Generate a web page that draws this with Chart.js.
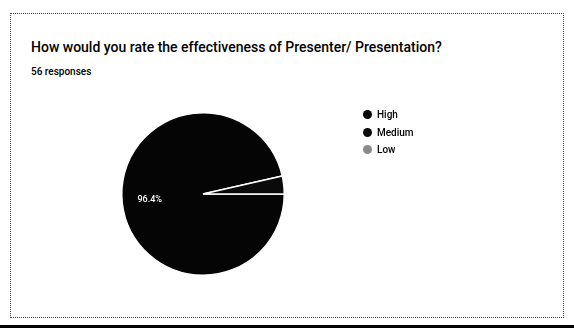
<!DOCTYPE html>
<html>
<head>
<meta charset="utf-8">
<script src="https://cdn.jsdelivr.net/npm/chart.js@4.4.1/dist/chart.umd.min.js"></script>
<style>
  html, body { margin: 0; padding: 0; background: #fff; }
  #wrap { position: relative; width: 574px; height: 332px; overflow: hidden; font-family: Roboto, Arial, sans-serif; color: #000; }
  #card { position: absolute; left: 10px; top: 13px; width: 552px; height: 303px; border: 1px dotted #444; }
  #bar { position: absolute; left: 0; top: 325px; width: 574px; height: 3px; background: #000; }
  #title { position: absolute; left: 31px; top: 39px; font-size: 14px; font-weight: 500; white-space: nowrap; }
  #sub { position: absolute; left: 31px; top: 66px; font-size: 10px; font-weight: 500; white-space: nowrap; }
  #legend { position: absolute; left: 363px; top: 108px; font-size: 10px; font-weight: 500; }
  #legend div { height: 17.5px; line-height: 14px; white-space: nowrap; }
  #legend span.dot { display: inline-block; width: 9px; height: 9px; border-radius: 50%; margin-right: 5px; vertical-align: -1px; }
  canvas { position: absolute; left: 0; top: 0; }
</style>
</head>
<body>
<div id="wrap">
  <div id="card"></div>
  <div id="bar"></div>
  <div id="title">How would you rate the effectiveness of Presenter/ Presentation?</div>
  <div id="sub">56 responses</div>
  <canvas id="myChart" width="574" height="332"></canvas>
  <div id="legend"></div>
</div>
<script>
// answers and counts
var labels = ['High', 'Medium', 'Low'];
var counts = [54, 2, 0];
var colors = ['#050505', '#0a0a0a', '#8a8a8a'];

var total = counts.reduce(function(a, b) { return a + b; }, 0);

// percent text inside each slice
var sliceLabels = {
    id: 'sliceLabels',
    afterDatasetsDraw: function(chart) {
        var ctx = chart.ctx;
        var meta = chart.getDatasetMeta(0);
        meta.data.forEach(function(arc, i) {
            var pct = counts[i] / total * 100;
            if (pct < 5) return;
            var p = arc.getProps(['x', 'y', 'startAngle', 'endAngle', 'outerRadius'], true);
            var mid = (p.startAngle + p.endAngle) / 2;
            var r = p.outerRadius * 0.66;
            ctx.save();
            ctx.fillStyle = '#fff';
            ctx.font = '500 9px Roboto, Arial, sans-serif';
            ctx.textAlign = 'center';
            ctx.textBaseline = 'middle';
            ctx.fillText(pct.toFixed(1) + '%', p.x + Math.cos(mid) * r, p.y + Math.sin(mid) * r);
            ctx.restore();
        });
    }
};

var ctx = document.getElementById('myChart');
var myPieChart = new Chart(ctx, {
    type: 'pie',
    data: {
        labels: labels,
        datasets: [{
            data: counts,
            backgroundColor: colors,
            borderColor: '#fff',
            borderWidth: 1.5
        }]
    },
    options: {
        responsive: false,
        animation: false,
        rotation: 90,
        layout: { padding: { left: 121, right: 289, top: 112, bottom: 56 } },
        plugins: {
            legend: { display: false },
            tooltip: { enabled: false }
        }
    },
    plugins: [sliceLabels]
});

// legend built from the same arrays
var legend = document.getElementById('legend');
labels.forEach(function(name, i) {
    var row = document.createElement('div');
    row.innerHTML = '<span class="dot" style="background:' + colors[i] + '"></span>' + name;
    legend.appendChild(row);
});
</script>
</body>
</html>
